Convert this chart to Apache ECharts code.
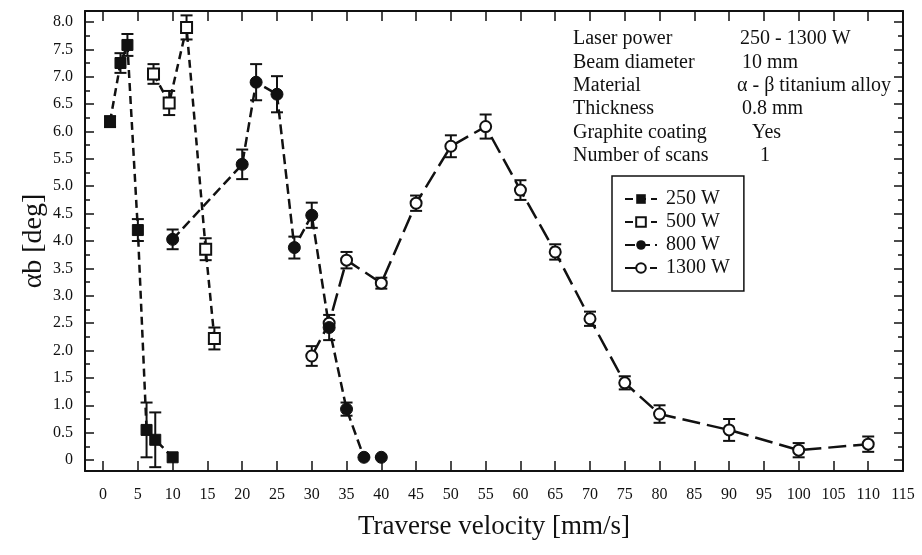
<!DOCTYPE html>
<html>
<head>
<meta charset="utf-8">
<script src="https://cdn.jsdelivr.net/npm/echarts@6.0.0/dist/echarts.min.js"></script>
<style>
    html,body{margin:0;padding:0;background:#fff;}
    #chart{width:922px;height:555px;}
</style>
</head>
<body>
<div id="chart"></div>
<script>
// data
var x250 = [1, 2.5, 3.5, 5, 6.25, 7.5, 10];
var y250 = [6.18, 7.25, 7.58, 4.2, 0.55, 0.37, 0.05];
var e250 = [0.1, 0.18, 0.2, 0.2, 0.5, 0.5, 0];

var x500 = [7.25, 9.5, 12, 14.75, 16];
var y500 = [7.05, 6.52, 7.9, 3.85, 2.22];
var e500 = [0.18, 0.22, 0.22, 0.2, 0.2];

var x800 = [10, 20, 22, 25, 27.5, 30, 32.5, 35, 37.5, 40];
var y800 = [4.03, 5.4, 6.9, 6.68, 3.88, 4.47, 2.42, 0.93, 0.05, 0.05];
var e800 = [0.18, 0.27, 0.33, 0.33, 0.2, 0.23, 0.23, 0.12, 0, 0];

var x1300 = [30, 32.5, 35, 40, 45, 50, 55, 60, 65, 70, 75, 80, 90, 100, 110];
var y1300 = [1.9, 2.5, 3.65, 3.23, 4.69, 5.73, 6.09, 4.93, 3.8, 2.58, 1.41, 0.84, 0.55, 0.18, 0.29];
var e1300 = [0.18, 0, 0.15, 0.1, 0.14, 0.2, 0.22, 0.18, 0.14, 0.13, 0.12, 0.16, 0.2, 0.13, 0.14];

var seriesNames = ['250 W', '500 W', '800 W', '1300 W'];

// tick values
var xTicks = [0, 5, 10, 15, 20, 25, 30, 35, 40, 45, 50, 55, 60, 65, 70, 75, 80, 85, 90, 95, 100, 105, 110, 115];
var yTicks = [0, 0.5, 1, 1.5, 2, 2.5, 3, 3.5, 4, 4.5, 5, 5.5, 6, 6.5, 7, 7.5, 8];
var yMinorTicks = [0.25, 0.75, 1.25, 1.75, 2.25, 2.75, 3.25, 3.75, 4.25, 4.75, 5.25, 5.75, 6.25, 6.75, 7.25, 7.75];

var infoLabels = ['Laser power', 'Beam diameter', 'Material', 'Thickness', 'Graphite coating', 'Number of scans'];
var infoValues = ['250 - 1300 W', '10 mm', 'α - β titanium alloy', '0.8 mm', 'Yes', '1'];

var ink = '#111';
var serif = '"Liberation Serif", "Times New Roman", serif';

function pairs(xs, ys) {
    return xs.map(function (x, i) { return [x, ys[i]]; });
}

function errorBars(xs, ys, es) {
    var data = [];
    xs.forEach(function (x, i) {
        if (es[i] > 0) data.push([x, ys[i] - es[i], ys[i] + es[i]]);
    });
    return {
        type: 'custom',
        silent: true,
        z: 1,
        encode: {x: 0, y: [1, 2]},
        data: data,
        renderItem: function (params, api) {
            var top = api.coord([api.value(0), api.value(2)]);
            var bot = api.coord([api.value(0), api.value(1)]);
            var w = 6;
            var st = {stroke: ink, lineWidth: 2};
            return {
                type: 'group',
                children: [
                    {type: 'line', shape: {x1: top[0], y1: top[1], x2: bot[0], y2: bot[1]}, style: st},
                    {type: 'line', shape: {x1: top[0] - w, y1: top[1], x2: top[0] + w, y2: top[1]}, style: st},
                    {type: 'line', shape: {x1: bot[0] - w, y1: bot[1], x2: bot[0] + w, y2: bot[1]}, style: st}
                ]
            };
        }
    };
}

function xAxisOf(pos, labels) {
    return {
        type: 'value', min: -2.6, max: 115, position: pos,
        axisLine: {show: true, onZero: false, lineStyle: {color: ink, width: 2}},
        axisTick: {show: true, inside: true, length: 10, customValues: xTicks, lineStyle: {color: ink, width: 1.5}},
        axisLabel: labels ? {margin: 16, fontSize: 16, color: ink, fontFamily: serif, customValues: xTicks} : {show: false},
        splitLine: {show: false}
    };
}
function yAxisOf(pos, ticks, len, labels, line) {
    return {
        type: 'value', min: -0.2, max: 8.2, position: pos,
        axisLine: {show: line, onZero: false, lineStyle: {color: ink, width: 2}},
        axisTick: {show: true, inside: true, length: len, customValues: ticks, lineStyle: {color: ink, width: 1.5}},
        axisLabel: labels ? {
            margin: 12, fontSize: 16, color: ink, fontFamily: serif, customValues: ticks,
            formatter: function (v) { return v === 0 ? '0' : v.toFixed(1); }
        } : {show: false},
        splitLine: {show: false}
    };
}

var graphics = [];
infoLabels.forEach(function (t, i) {
    graphics.push({type: 'text', left: 573, top: 29 + i * 23.4, z: 10,
        style: {text: t, font: '20px ' + serif, fill: ink}});
});
var valueLeft = [740, 742, 737, 742, 752, 760];
infoValues.forEach(function (t, i) {
    graphics.push({type: 'text', left: valueLeft[i], top: 29 + i * 23.4, z: 10,
        style: {text: t, font: '20px ' + serif, fill: ink}});
});

var xBottom = xAxisOf('bottom', true);
xBottom.name = 'Traverse velocity [mm/s]';
xBottom.nameLocation = 'middle';
xBottom.nameGap = 42;
xBottom.nameTextStyle = {fontFamily: serif, fontSize: 27, color: ink};

var yLeft = yAxisOf('left', yTicks, 9, true, true);
yLeft.name = 'αb [deg]';
yLeft.nameLocation = 'middle';
yLeft.nameGap = 37;
yLeft.nameMoveOverlap = false;
yLeft.nameTextStyle = {fontFamily: serif, fontSize: 28, color: ink};

var chart = echarts.init(document.getElementById('chart'));
option = {
    animation: false,
    backgroundColor: '#fff',
    textStyle: {fontFamily: serif, color: ink},
    grid: {left: 85, right: 19, top: 11, bottom: 84, containLabel: false, outerBoundsMode: 'none'},
    legend: {
        data: seriesNames,
        orient: 'vertical',
        left: 612, top: 176,
        padding: [13, 14, 13, 12],
        itemWidth: 32, itemHeight: 12, itemGap: 3,
        borderColor: ink, borderWidth: 1.5,
        textStyle: {fontFamily: serif, fontSize: 20, color: ink, padding: [0, 0, 0, 4]}
    },
    xAxis: [xBottom, xAxisOf('top', false)],
    yAxis: [
        yLeft,
        yAxisOf('right', yTicks, 9, false, true),
        yAxisOf('left', yMinorTicks, 5, false, false),
        yAxisOf('right', yMinorTicks, 5, false, false)
    ],
    graphic: graphics,
    series: [
        errorBars(x250, y250, e250),
        errorBars(x500, y500, e500),
        errorBars(x800, y800, e800),
        errorBars(x1300, y1300, e1300),
        {
            name: '250 W', type: 'line', z: 3,
            symbol: 'rect', symbolSize: 11,
            itemStyle: {color: ink, borderColor: ink},
            lineStyle: {color: ink, width: 2.5, type: [8, 5]},
            data: pairs(x250, y250)
        },
        {
            name: '500 W', type: 'line', z: 3,
            symbol: 'rect', symbolSize: 11,
            itemStyle: {color: '#fff', borderColor: ink, borderWidth: 2},
            lineStyle: {color: ink, width: 2.5, type: [8, 5]},
            data: pairs(x500, y500)
        },
        {
            name: '800 W', type: 'line', z: 4,
            symbol: 'circle', symbolSize: 12,
            itemStyle: {color: ink, borderColor: ink},
            lineStyle: {color: ink, width: 2.5, type: [10, 5]},
            data: pairs(x800, y800)
        },
        {
            name: '1300 W', type: 'line', z: 3,
            symbol: 'circle', symbolSize: 11,
            itemStyle: {color: '#fff', borderColor: ink, borderWidth: 2},
            lineStyle: {color: ink, width: 2.5, type: [18, 7]},
            data: pairs(x1300, y1300)
        }
    ]
};
chart.setOption(option);
</script>
</body>
</html>
